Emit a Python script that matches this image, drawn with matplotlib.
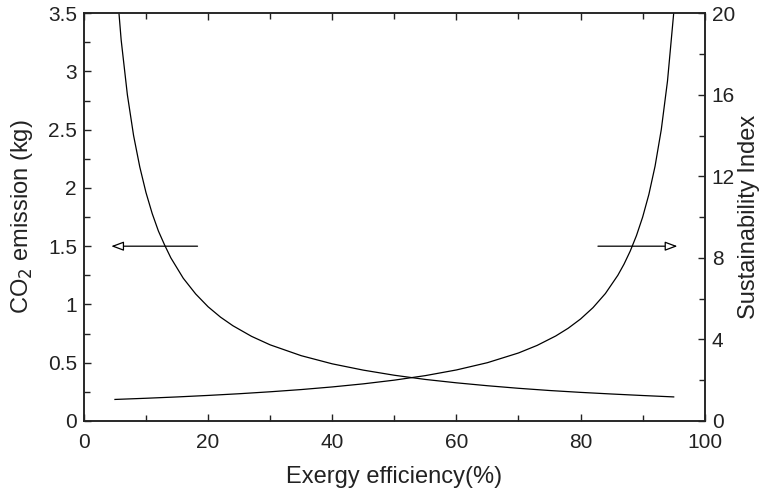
import matplotlib.pyplot as plt
from matplotlib.ticker import MultipleLocator

plt.rcParams['font.family'] = ['Liberation Sans', 'DejaVu Sans']

# exergy efficiency (%) and the values
eff_co2 = [5, 6, 7, 8, 9, 10, 11, 12, 13, 14, 16, 18, 20, 22, 24, 27, 30,
           35, 40, 45, 50, 55, 60, 65, 70, 75, 80, 85, 90, 95]
co2 = [3.92, 3.27, 2.80, 2.45, 2.18, 1.96, 1.78, 1.63, 1.51, 1.40, 1.225,
       1.09, 0.98, 0.891, 0.817, 0.726, 0.653, 0.56, 0.49, 0.436, 0.392,
       0.356, 0.327, 0.302, 0.28, 0.261, 0.245, 0.231, 0.218, 0.206]

eff_si = [5, 10, 15, 20, 25, 30, 35, 40, 45, 50, 55, 60, 65, 70, 73, 76,
          78, 80, 82, 84, 86, 87, 88, 89, 90, 91, 92, 93, 94, 95]
si = [1.053, 1.111, 1.176, 1.25, 1.333, 1.429, 1.538, 1.667, 1.818, 2.0,
      2.222, 2.5, 2.857, 3.333, 3.704, 4.167, 4.545, 5.0, 5.556, 6.25,
      7.143, 7.692, 8.333, 9.09, 10.0, 11.11, 12.5, 14.29, 16.67, 20.0]

fig = plt.figure(figsize=(7.77, 4.9), dpi=100)
ax = fig.add_axes([0.108, 0.141, 0.799, 0.832])
ax2 = ax.twinx()

ax.plot(eff_co2, co2, color='black', lw=0.9)
ax2.plot(eff_si, si, color='black', lw=0.9)

ax.set_xlim(0, 100)
ax.set_ylim(0, 3.5)
ax2.set_ylim(0, 20)

ax.xaxis.set_major_locator(MultipleLocator(20))
ax.xaxis.set_minor_locator(MultipleLocator(10))
ax.yaxis.set_minor_locator(MultipleLocator(0.25))
ax2.yaxis.set_major_locator(MultipleLocator(4))
ax2.yaxis.set_minor_locator(MultipleLocator(2))

ax.set_yticks([0, 0.5, 1, 1.5, 2, 2.5, 3, 3.5])
ax.set_yticklabels(['0', '0.5', '1', '1.5', '2', '2.5', '3', '3.5'])

ax.tick_params(which='both', direction='in', top=True, labelsize=15,
               width=1, pad=5, colors='#222222')
ax.tick_params(axis='x', which='both', pad=9)
ax.tick_params(which='major', length=5)
ax.tick_params(which='minor', length=4)
ax2.tick_params(which='both', direction='in', labelsize=15, width=1, pad=5,
                colors='#222222')
ax2.tick_params(which='major', length=5)
ax2.tick_params(which='minor', length=4)

for a in (ax, ax2):
    for s in a.spines.values():
        s.set_linewidth(1.1)
        s.set_color('#222222')

ax.set_xlabel('Exergy efficiency(%)', fontsize=17, color='#222222', labelpad=10)
ax.set_ylabel('CO$_2$ emission (kg)', fontsize=17, color='#222222', labelpad=9)
ax2.set_ylabel('Sustainability Index', fontsize=17, color='#222222',
               labelpad=2)

# arrows pointing to the axis each curve belongs to
arrow = dict(arrowstyle='-|>,head_length=0.75,head_width=0.28', color='black',
             fc='white', lw=0.9, shrinkA=0, shrinkB=0)
ax.annotate('', xy=(4.4, 1.5), xytext=(18.3, 1.5), arrowprops=arrow)
ax.annotate('', xy=(95.6, 1.5), xytext=(82.8, 1.5), arrowprops=arrow)

fig.savefig('out.png', dpi=100)
